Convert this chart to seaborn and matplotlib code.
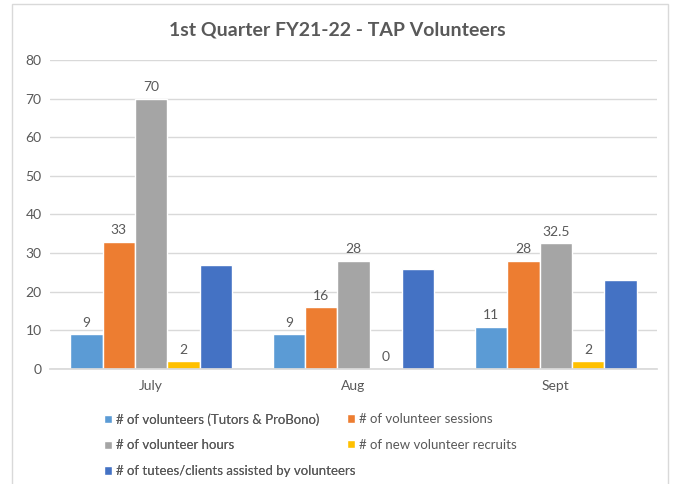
import matplotlib
matplotlib.use("Agg")
import matplotlib.pyplot as plt
import pandas as pd
import seaborn as sns
from matplotlib.patches import Rectangle

MONTHS = ["July", "Aug", "Sept"]
SERIES = [
    "# of volunteers (Tutors & ProBono)",
    "# of volunteer sessions",
    "# of volunteer hours",
    "# of new volunteer recruits",
    "# of tutees/clients assisted by volunteers",
]
VOLUNTEERS = [9, 9, 11]
SESSIONS = [33, 16, 28]
HOURS = [70, 28, 32.5]
RECRUITS = [2, 0, 2]
TUTEES = [27, 26, 23]
COLORS = ["#5B9BD5", "#ED7D31", "#A5A5A5", "#FFC000", "#4472C4"]


def main() -> None:
    sns.set_theme(style="white")
    plt.rcParams["font.family"] = ["Lato", "DejaVu Sans"]
    text_color = "#595959"

    rows = []
    for name, vals in zip(SERIES, [VOLUNTEERS, SESSIONS, HOURS, RECRUITS, TUTEES]):
        for m, v in zip(MONTHS, vals):
            rows.append({"month": m, "series": name, "value": v})
    df = pd.DataFrame(rows)

    fig = plt.figure(figsize=(6.75, 4.84), dpi=100)
    ax = fig.add_axes([50 / 675, 1 - 369 / 484, 607 / 675, 309 / 484])

    sns.barplot(data=df, x="month", y="value", hue="series", order=MONTHS,
                hue_order=SERIES, palette=COLORS, width=0.8, gap=0, saturation=1,
                ax=ax, legend=True)

    # data labels for all series except the tutees
    for cont in ax.containers[:4]:
        ax.bar_label(cont, labels=[f"{v:g}" for v in cont.datavalues],
                     padding=4, fontsize=10, color=text_color)

    ax.set_ylim(0, 80)
    ax.set_yticks(range(0, 81, 10))
    ax.grid(axis="y", color="#D9D9D9", linewidth=1)
    ax.set_axisbelow(True)
    for s in ["top", "right", "left"]:
        ax.spines[s].set_visible(False)
    ax.spines["bottom"].set_color("#D9D9D9")
    ax.tick_params(axis="both", length=0, labelsize=10, labelcolor=text_color)
    ax.tick_params(axis="x", pad=8)
    ax.tick_params(axis="y", pad=6)
    ax.set_xlabel("")
    ax.set_ylabel("")

    fig.text(0.5, 1 - 30 / 484, "1st Quarter FY21-22 - TAP Volunteers",
             ha="center", va="center", fontsize=14, fontweight="bold",
             color=text_color)

    handles, labels = ax.get_legend_handles_labels()
    ax.legend_.remove()
    leg_kw = dict(loc="upper left", frameon=False, fontsize=9.5,
                  labelcolor=text_color, handlelength=0.6, handleheight=0.6,
                  handletextpad=0.3, labelspacing=1.05, borderaxespad=0,
                  borderpad=0)
    col1 = [0, 2, 4]
    col2 = [1, 3]
    leg1 = fig.legend([handles[i] for i in col1], [labels[i] for i in col1],
                      bbox_to_anchor=(104 / 675, 1 - 413 / 484), **leg_kw)
    fig.legend([handles[i] for i in col2], [labels[i] for i in col2],
               bbox_to_anchor=(347 / 675, 1 - 413 / 484), **leg_kw)
    fig.add_artist(leg1)

    fig.patches.append(Rectangle((12 / 675, -0.01), 656 / 675, 1 - 4 / 484 + 0.01,
                                 transform=fig.transFigure, fill=False,
                                 edgecolor="#D9D9D9", linewidth=1))

    fig.savefig("out.png", dpi=100)
    plt.close(fig)


if __name__ == "__main__":
    main()
